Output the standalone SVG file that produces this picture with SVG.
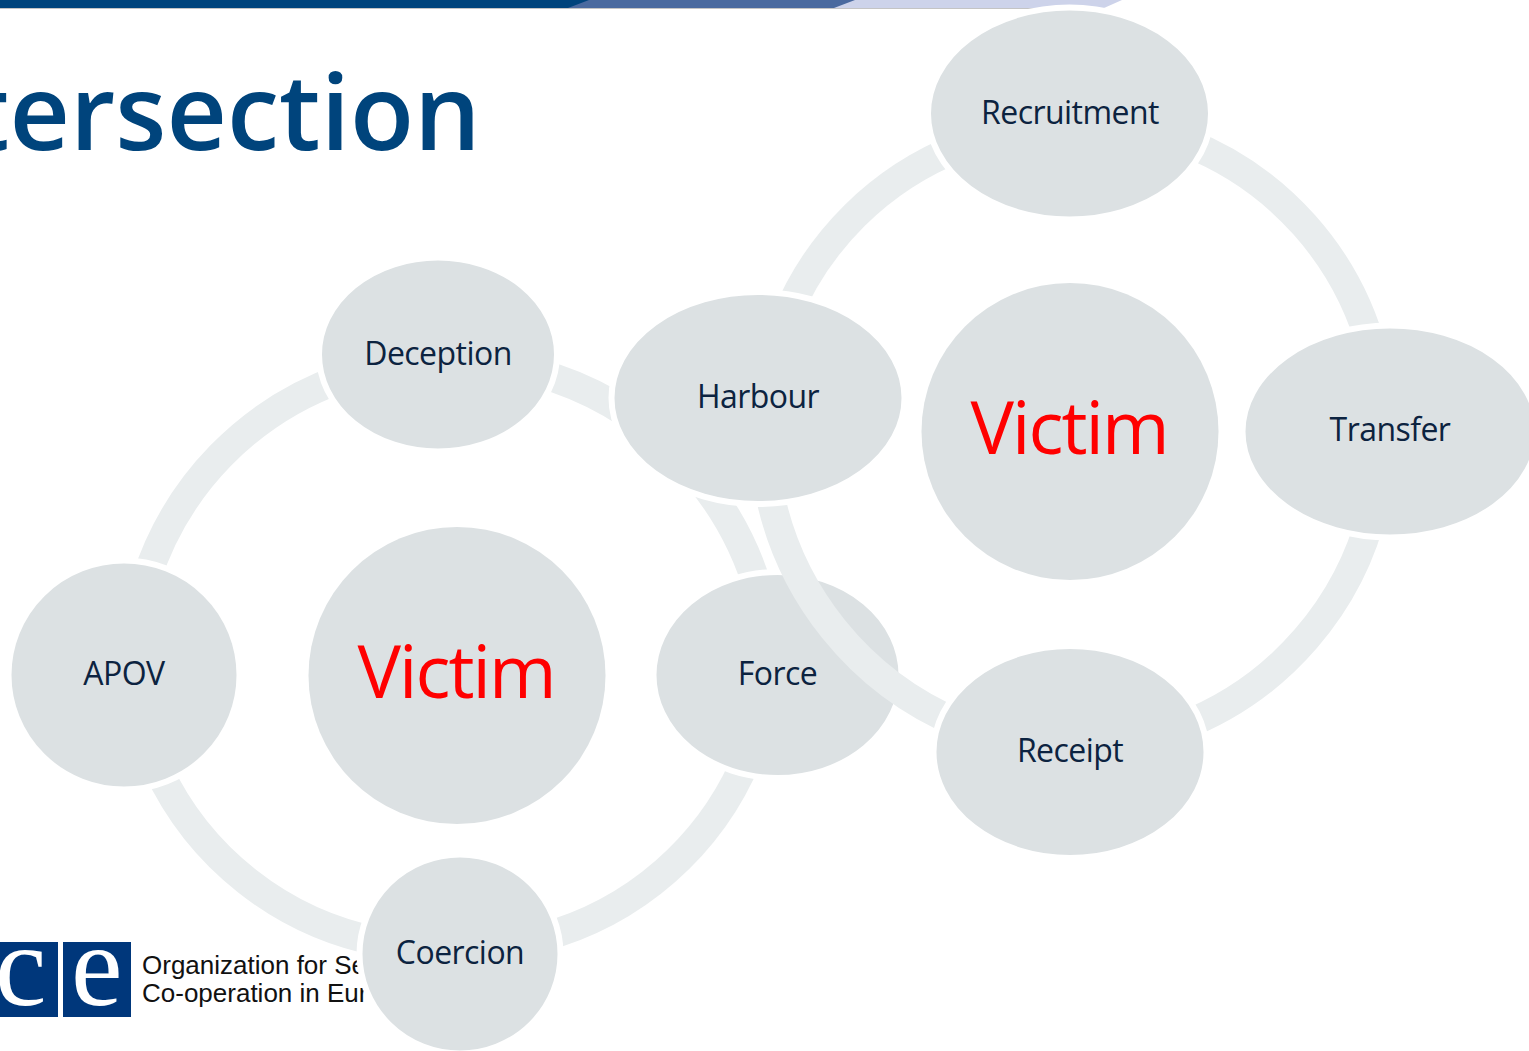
<svg xmlns="http://www.w3.org/2000/svg" width="1529" height="1051" viewBox="0 0 1529 1051">
<style>
.n{fill:#dce1e3;stroke:#fff;stroke-width:6}
.a{fill:none;stroke:#e9edee;stroke-width:29}
.t{font-family:"Open Sans","Noto Sans",sans-serif;font-size:32px;letter-spacing:-.55px;fill:#0c2340;text-anchor:middle}
.v{font-family:"Open Sans","Noto Sans",sans-serif;font-size:73px;letter-spacing:-2px;fill:#ff0000;text-anchor:middle}
.l{font-family:"Liberation Sans",Arial,sans-serif;font-size:26px;fill:#111}
.c{font-family:"Liberation Serif","Times New Roman",serif;font-size:116px;fill:#fff}
</style>
<rect width="1529" height="1051" fill="#fff"/>
<g id="topbar">
<rect x="0" y="8" width="1035" height="1" fill="#c4c4c4"/>
<polygon points="0,0 1122,0 1104,8 0,8" fill="#cdd3ea"/>
<polygon points="0,0 855,0 834,8 0,8" fill="#4a6a9f"/>
<polygon points="0,0 589,0 568,8 0,8" fill="#00447c"/>
</g>
<text id="title" x="-32" y="150" font-family="'Open Sans','Noto Sans',sans-serif" font-size="105" font-weight="600" fill="#00447c">tersection</text>
<g id="logo">
<rect x="0" y="942" width="58" height="75" fill="#00377b"/>
<rect x="63" y="942" width="68" height="75" fill="#00377b"/>
<text class="c" x="-5" y="1005">c</text>
<text class="c" x="71" y="1005">e</text>
<text class="l" x="142" y="974">Organization for Se</text>
<text class="l" x="142" y="1002">Co-operation in Eur</text>
</g>
<g id="connectors-left">
<path class="a" d="M146 580A315 315 0 0 1 343 378"/>
<path class="a" d="M535 372A322 322 0 0 1 760 595"/>
<path class="a" d="M748 756A311 311 0 0 1 540 938"/>
<path class="a" d="M380 942A311 311 0 0 1 157 767"/>
</g>
<g id="left-nodes">
<g id="deception"><ellipse class="n" cx="438" cy="354.500" rx="119" ry="97"/><text class="t" x="438" y="364.500">Deception</text></g>
<g id="apov"><ellipse class="n" cx="124" cy="675" rx="115.500" ry="114.500"/><text class="t" x="124" y="685">APOV</text></g>
<g id="force"><ellipse class="n" cx="777.500" cy="675" rx="124" ry="103"/><text class="t" x="777.500" y="685">Force</text></g>
<g id="coercion"><ellipse class="n" cx="460" cy="954" rx="100.500" ry="99.500"/><text class="t" x="460" y="964">Coercion</text></g>
<g id="victim-left"><circle cx="457" cy="675.500" r="148.500" fill="#dce1e3"/><text class="v" x="456" y="698">Victim</text></g>
</g>
<g id="connectors-right">
<path class="a" d="M1185 142A311 311 0 0 1 1373 353"/>
<path class="a" d="M1375 501A315 315 0 0 1 1180 727"/>
<path class="a" d="M960 724A320 320 0 0 1 768 485"/>
<path class="a" d="M785 320A311 311 0 0 1 960 147"/>
</g>
<g id="right-nodes">
<g id="recruitment"><ellipse class="n" cx="1069.500" cy="113.500" rx="141.500" ry="106"/><text class="t" x="1070" y="124">Recruitment</text></g>
<g id="transfer"><ellipse class="n" cx="1390" cy="431.500" rx="147.500" ry="106"/><text class="t" x="1390" y="441">Transfer</text></g>
<g id="receipt"><ellipse class="n" cx="1070" cy="752" rx="136.500" ry="106"/><text class="t" x="1070" y="762">Receipt</text></g>
<g id="harbour"><ellipse class="n" cx="758" cy="398" rx="146.500" ry="106"/><text class="t" x="758" y="408">Harbour</text></g>
<g id="victim-right"><circle cx="1070" cy="431.500" r="148.500" fill="#dce1e3"/><text class="v" x="1069" y="454">Victim</text></g>
</g>
</svg>
